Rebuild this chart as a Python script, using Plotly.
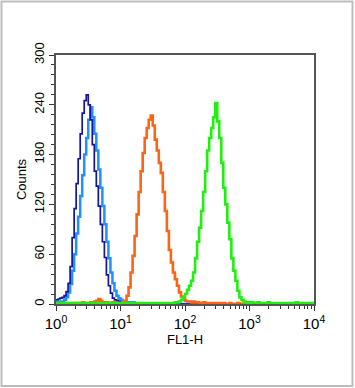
import plotly.graph_objects as go

# Histogram channels: 4 decades, 32 bins per decade (128 bins)
decades = 4
bins_per_decade = 32
n_bins = decades * bins_per_decade

navy_counts = [
    5, 6, 7, 8, 10, 15, 25, 45, 80, 115, 145, 175, 205, 230, 245, 252,
    240, 222, 192, 160, 142, 118, 96, 75, 56, 35, 22, 13, 7, 5, 4, 3,
    2, 2, 1, 1, 0, 1, 0, 0, 1, 0, 0, 0, 0, 0, 0, 0,
    0, 0, 0, 0, 0, 0, 0, 0, 0, 0, 0, 0, 0, 0, 0, 0,
    0, 0, 0, 0, 0, 0, 0, 0, 0, 0, 0, 0, 0, 0, 0, 0,
    0, 0, 0, 0, 0, 0, 0, 0, 0, 0, 0, 0, 0, 0, 0, 0,
    0, 0, 0, 0, 0, 0, 0, 0, 0, 0, 0, 0, 0, 0, 0, 0,
    0, 0, 0, 0, 0, 0, 0, 0, 0, 0, 0, 0, 0, 0, 0, 0,
]

lightblue_counts = [
    2, 2, 3, 3, 5, 8, 14, 24, 40, 60, 85, 105, 130, 155, 180, 200,
    222, 237, 225, 205, 185, 162, 140, 118, 96, 75, 55, 38, 25, 16, 10, 7,
    5, 3, 3, 2, 2, 1, 2, 1, 1, 0, 1, 0, 0, 1, 0, 0,
    0, 0, 1, 0, 0, 0, 0, 0, 0, 0, 0, 0, 0, 0, 0, 0,
    0, 0, 0, 0, 0, 0, 0, 0, 0, 0, 0, 0, 0, 0, 0, 0,
    0, 0, 0, 0, 0, 0, 0, 0, 0, 0, 0, 0, 0, 0, 0, 0,
    0, 0, 0, 0, 0, 0, 0, 0, 0, 0, 0, 0, 0, 0, 0, 0,
    0, 0, 0, 0, 0, 0, 0, 0, 0, 0, 0, 0, 0, 0, 0, 0,
]

orange_counts = [
    0, 0, 1, 0, 0, 1, 0, 0, 1, 1, 0, 1, 1, 2, 1, 1,
    1, 2, 2, 3, 4, 6, 4, 2, 1, 2, 1, 1, 2, 1, 1, 1,
    1, 2, 4, 10, 20, 38, 58, 82, 108, 135, 160, 182, 200, 212, 222, 227,
    215, 198, 185, 170, 158, 135, 112, 88, 65, 50, 38, 30, 22, 14, 9, 6,
    4, 3, 3, 2, 3, 2, 2, 1, 1, 2, 1, 1, 0, 1, 1, 0,
    1, 0, 1, 1, 0, 0, 1, 0, 0, 0, 1, 0, 0, 0, 0, 0,
    0, 0, 0, 0, 0, 0, 0, 0, 0, 0, 0, 0, 0, 0, 0, 0,
    0, 0, 0, 0, 0, 0, 0, 0, 0, 0, 0, 0, 0, 0, 0, 0,
]

green_counts = [
    1, 1, 1, 1, 1, 1, 1, 1, 1, 1, 1, 1, 1, 1, 1, 1,
    1, 1, 1, 1, 1, 1, 1, 1, 1, 1, 1, 1, 1, 1, 1, 1,
    1, 1, 1, 1, 1, 1, 1, 1, 1, 1, 1, 1, 1, 1, 1, 1,
    1, 1, 1, 1, 1, 1, 1, 1, 1, 1, 1, 2, 2, 3, 5, 8,
    12, 17, 22, 28, 38, 55, 75, 92, 112, 135, 160, 185, 200, 212, 225, 242,
    220, 200, 170, 140, 120, 98, 78, 55, 40, 28, 16, 8, 5, 3, 2, 2,
    1, 2, 1, 1, 2, 1, 1, 1, 1, 2, 1, 1, 1, 1, 1, 1,
    1, 1, 1, 1, 1, 1, 1, 2, 1, 1, 1, 1, 1, 1, 1, 1,
]

x_tickvals = [1, 10, 100, 1000, 10000]
x_ticktext = ["10<sup>0</sup>", "10<sup>1</sup>", "10<sup>2</sup>",
              "10<sup>3</sup>", "10<sup>4</sup>"]
x_minor_vals = [m * 10 ** d for d in range(4) for m in range(2, 10)]
y_tickvals = [0, 60, 120, 180, 240, 300]

# bin edges on the log channel scale
edges = [10 ** (i / bins_per_decade) for i in range(n_bins + 1)]


def step_xy(counts):
    return edges, list(counts) + [counts[-1]]


series = [
    ("lightblue", lightblue_counts, "#1e90ff", 2.5),
    ("navy", navy_counts, "#14149e", 1.7),
    ("orange", orange_counts, "#ff6415", 2.6),
    ("green", green_counts, "#22ee11", 2.6),
]

fig = go.Figure()
for name, counts, color, width in series:
    xs, ys = step_xy(counts)
    fig.add_trace(go.Scatter(x=xs, y=ys, mode="lines", name=name,
                             line=dict(color=color, width=width, shape="hv"),
                             hoverinfo="skip"))

font_family = "Liberation Sans, Arial, sans-serif"

fig.update_layout(
    width=355, height=388,
    margin=dict(l=56, r=41, t=55, b=84),
    paper_bgcolor="white", plot_bgcolor="white",
    showlegend=False,
    font=dict(family=font_family, size=13, color="black"),
    xaxis=dict(
        type="log", range=[0, 4],
        tickmode="array", tickvals=x_tickvals, ticktext=x_ticktext,
        ticks="outside", ticklen=5, tickwidth=1.2, tickcolor="#333",
        minor=dict(tickmode="array", tickvals=x_minor_vals, ticks="outside",
                   ticklen=3, tickwidth=1, tickcolor="#333"),
        showgrid=False, zeroline=False,
        showline=True, linecolor="#555", linewidth=1.6, mirror=True,
        tickfont=dict(size=15),
        title=dict(text="FL1-H", font=dict(size=13), standoff=2),
    ),
    yaxis=dict(
        range=[0, 300],
        tickmode="array", tickvals=y_tickvals,
        tickangle=-90,
        ticks="outside", ticklen=5, tickwidth=1.2, tickcolor="#333",
        minor=dict(dtick=12, ticks="outside", ticklen=3, tickwidth=1,
                   tickcolor="#333"),
        showgrid=False, zeroline=False,
        showline=True, linecolor="#555", linewidth=1.6, mirror=True,
        tickfont=dict(size=13),
        title=dict(text="Counts", font=dict(size=13), standoff=2),
    ),
)

# outer grey frame of the figure
W, H = 355, 388
pl, pt, pw, ph = 56, 55, 258, 249
fig.add_shape(type="rect", xref="paper", yref="paper",
              x0=(1.5 - pl) / pw, x1=(352.5 - pl) / pw,
              y0=(pt + ph - 386) / ph, y1=(pt + ph - 1.5) / ph,
              line=dict(color="#bdbdbd", width=2), fillcolor="rgba(0,0,0,0)",
              layer="below")

fig.write_html("out.html")
